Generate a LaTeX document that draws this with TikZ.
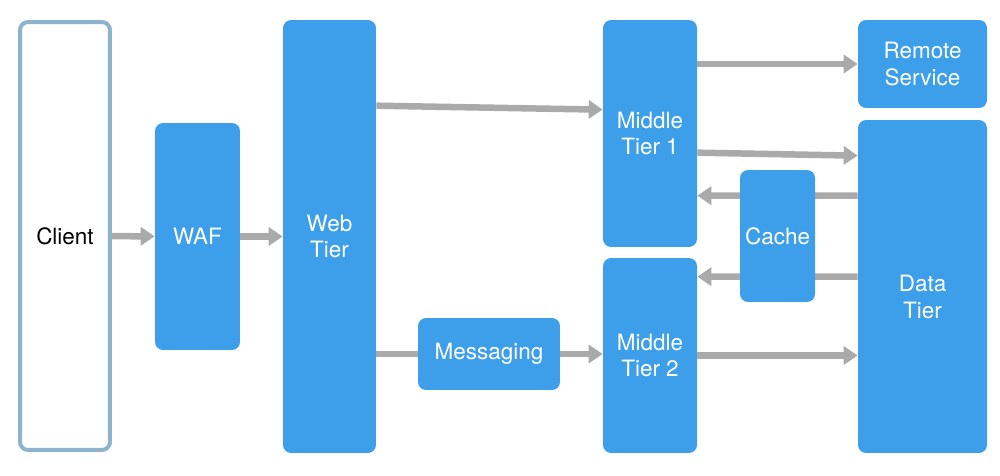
\documentclass[tikz,border=0pt]{standalone}
\usepackage{fontspec}
\setmainfont{TeX Gyre Heros}
\usetikzlibrary{arrows.meta,calc}
\definecolor{tierblue}{RGB}{61,158,234}
\definecolor{clientedge}{RGB}{141,180,204}
\definecolor{flowgray}{RGB}{170,170,170}
\newcommand{\lowertext}[2]{\raisebox{-#1}[\height][\depth]{\begin{tabular}{@{}c@{}}#2\end{tabular}}}

\begin{document}
\begin{tikzpicture}[x=0.02cm,y=-0.02cm,
  tier/.style={rectangle,rounded corners=0.16cm,fill=tierblue,text=white,align=center,
    inner sep=0pt,font=\fontsize{12.8}{15.3}\selectfont},
  flow/.style={-{Triangle[length=0.28cm,width=0.36cm]},line width=0.13cm,draw=flowgray},
  link/.style={line width=0.13cm,draw=flowgray}]
  \useasboundingbox[fill=white] (0,0) rectangle (1000,476);
  % boxes
  \node[tier,fill=white,text=black,draw=clientedge,line width=0.08cm,
    minimum width=1.8cm,minimum height=8.56cm] (client) at (65,236) {Client};
  \node[tier,minimum width=1.7cm,minimum height=4.54cm] (waf) at (197.5,236.5) {WAF};
  \node[tier,minimum width=1.86cm,minimum height=8.66cm] (web) at (329.5,236.5) {Web\\Tier};
  \node[tier,minimum width=2.84cm,minimum height=1.44cm] (msg) at (489,354) {Messaging};
  \node[tier,minimum width=1.88cm,minimum height=4.54cm] (mid1) at (650,133.5) {Middle\\Tier 1};
  \node[tier,minimum width=1.88cm,minimum height=3.9cm] (mid2) at (650,355.5) {Middle\\Tier 2};
  \node[tier,minimum width=2.58cm,minimum height=1.76cm] (remote) at (922.5,64) {Remote\\Service};
  \node[tier,minimum width=2.58cm,minimum height=6.66cm] (data) at (922.5,286.5)
    {\lowertext{0.27cm}{Data\\Tier}};
  % flows
  \draw[flow] (client) -- (waf);
  \draw[flow] (waf) -- (web);
  \draw[flow] ($(web.north east)+(0,86)$) -- ($(mid1.north west)+(0,90)$);
  \draw[link] (web.east |- msg.west) -- (msg.west);
  \draw[flow] (msg.east) -- (mid2.west |- msg.east);
  \draw[flow] (mid1.east |- remote.west) -- (remote.west);
  \draw[flow] ($(mid1.north east)+(0,133)$) -- ($(data.north west)+(0,36)$);
  \draw[flow] ($(data.north west)+(0,76)$) -- ($(mid1.north east)+(0,176)$);
  \draw[flow] ($(data.north west)+(0,157)$) -- ($(mid2.north east)+(0,19)$);
  \draw[flow] (mid2.east) -- (data.west |- mid2.east);
  % cache sits over the two return flows
  \node[tier,minimum width=1.5cm,minimum height=2.64cm] (cache) at (777.5,236) {Cache};
\end{tikzpicture}
\end{document}
